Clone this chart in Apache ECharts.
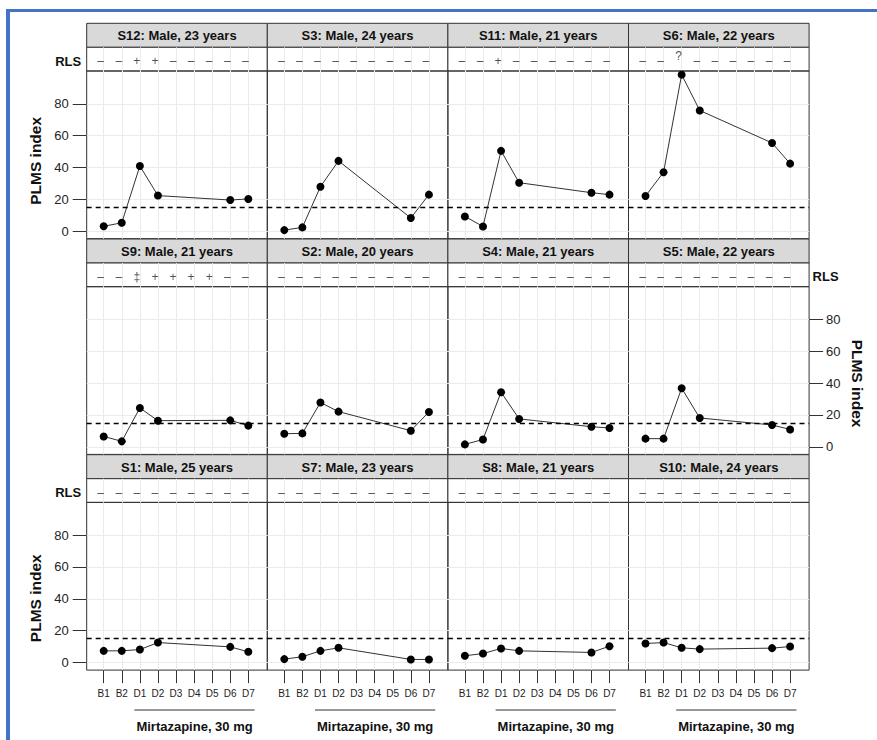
<!DOCTYPE html>
<html><head><meta charset="utf-8">
<script src="https://cdn.jsdelivr.net/npm/echarts@6/dist/echarts.min.js"></script>
<style>html,body{margin:0;padding:0;background:#fff}#c{width:877px;height:740px}</style>
</head><body><div id="c"></div>
<script>
// ---------- DATA ----------
const days = ['B1','B2','D1','D2','D3','D4','D5','D6','D7'];
const panelNames = [
  'S12: Male, 23 years','S3: Male, 24 years','S11: Male, 21 years','S6: Male, 22 years',
  'S9: Male, 21 years','S2: Male, 20 years','S4: Male, 21 years','S5: Male, 22 years',
  'S1: Male, 25 years','S7: Male, 23 years','S8: Male, 21 years','S10: Male, 24 years'
];
// PLMS index per day (null = not recorded)
const s12 = [3.0, 5.2, 40.9, 22.3, null, null, null, 19.5, 20.2];
const s3  = [0.6, 2.3, 27.9, 44.1, null, null, null, 8.2, 22.9];
const s11 = [9.2, 2.9, 50.4, 30.4, null, null, null, 24.1, 22.9];
const s6  = [22.0, 37.0, 98.3, 75.8, null, null, null, 55.4, 42.4];
const s9  = [6.5, 3.4, 24.4, 16.4, null, null, null, 16.6, 13.3];
const s2  = [8.2, 8.4, 27.8, 22.1, null, null, null, 10.1, 21.9];
const s4  = [1.5, 4.6, 34.3, 17.5, null, null, null, 12.6, 11.8];
const s5  = [5.1, 5.1, 36.8, 18.1, null, null, null, 13.7, 10.9];
const s1  = [7.3, 7.3, 8.1, 12.5, null, null, null, 9.8, 6.7];
const s7  = [2.1, 3.6, 7.3, 9.2, null, null, null, 1.9, 1.9];
const s8  = [4.2, 5.6, 8.8, 7.3, null, null, null, 6.3, 10.2];
const s10 = [11.9, 12.5, 9.2, 8.4, null, null, null, 9.0, 10.0];
// RLS status per day
const rls_s12 = ['–','–','+','+','–','–','–','–','–'];
const rls_s3  = ['–','–','–','–','–','–','–','–','–'];
const rls_s11 = ['–','–','+','–','–','–','–','–','–'];
const rls_s6  = ['–','–','?','–','–','–','–','–','–'];
const rls_s9  = ['–','–','‡','+','+','+','+','–','–'];
const rls_s2  = ['–','–','–','–','–','–','–','–','–'];
const rls_s4  = ['–','–','–','–','–','–','–','–','–'];
const rls_s5  = ['–','–','–','–','–','–','–','–','–'];
const rls_s1  = ['–','–','–','–','–','–','–','–','–'];
const rls_s7  = ['–','–','–','–','–','–','–','–','–'];
const rls_s8  = ['–','–','–','–','–','–','–','–','–'];
const rls_s10 = ['–','–','–','–','–','–','–','–','–'];
const yTicks = [0, 20, 40, 60, 80];
const threshold = 15;
const yTitle = 'PLMS index';
const rlsTitle = 'RLS';
const treatmentLabel = 'Mirtazapine, 30 mg';
const treatmentFrom = 'D1', treatmentTo = 'D7';

const panelValues = [s12, s3, s11, s6, s9, s2, s4, s5, s1, s7, s8, s10];
const panelRls = [rls_s12, rls_s3, rls_s11, rls_s6, rls_s9, rls_s2, rls_s4, rls_s5, rls_s1, rls_s7, rls_s8, rls_s10];

// ---------- LAYOUT ----------
const FONT = '"Liberation Sans", Arial, Helvetica, sans-serif';
const COL_LEFT = 86.7, COL_W = 180.6, ROW_TOP = 23.3, ROW_PITCH = 215.7;
const HEAD_H = 24, RLS_H = 23.7, PLOT_H = 167.7, TICK_LEN = 13, YTICK_LEN = 14;
const X_MIN = 0.06, X_MAX = 10.05, Y_MIN = -4.8, Y_MAX = 100.6;
const GRID_C = '#ebebeb', BORDER_C = '#333';
const NAME_SHIFT = [6, 13, 12]; // px downward shift of y-axis title per row
const xPos = days.map((d, i) => i + 1);

const grid = [], xAxis = [], yAxis = [], series = [], graphics = [];
const plotGridIdx = [], rlsGridIdx = [];

function hiddenAxes(g) {
  xAxis.push({gridIndex: g, type: 'value', show: false, min: 0, max: 1});
  yAxis.push({gridIndex: g, type: 'value', show: false, min: 0, max: 1});
}

panelNames.forEach((name, k) => {
  const r = Math.floor(k / 4), c = k % 4;
  const left = COL_LEFT + c * COL_W, top = ROW_TOP + r * ROW_PITCH;
  const leftSide = c === 0 && r !== 1, rightSide = c === 3 && r === 1;
  const plotTop = top + HEAD_H + RLS_H;

  // header strip
  const gH = grid.length;
  grid.push({left, top, width: COL_W, height: HEAD_H, show: true, backgroundColor: '#d9d9d9', borderColor: BORDER_C, borderWidth: 1});
  hiddenAxes(gH);
  graphics.push({type: 'text', x: left + COL_W / 2, y: top + HEAD_H / 2 + 0.5, z: 100,
    style: {text: name, align: 'center', verticalAlign: 'middle', font: 'bold 13px ' + FONT, fill: '#111'}});

  // RLS strip
  const gR = grid.length;
  rlsGridIdx.push(gR);
  grid.push({left, top: top + HEAD_H, width: COL_W, height: RLS_H, show: true, backgroundColor: '#fff', borderColor: BORDER_C, borderWidth: 1});
  xAxis.push({gridIndex: gR, type: 'value', min: X_MIN, max: X_MAX,
    axisLine: {show: false}, axisTick: {show: false, customValues: xPos}, axisLabel: {show: false},
    splitLine: {show: true, lineStyle: {color: GRID_C}}});
  yAxis.push({gridIndex: gR, type: 'value', min: 0, max: 1,
    axisLine: {show: false}, axisTick: {show: false}, axisLabel: {show: false}, splitLine: {show: false}});
  series.push({type: 'scatter', xAxisIndex: gR, yAxisIndex: gR, silent: true, animation: false,
    symbolSize: 0, itemStyle: {color: '#222'},
    data: panelRls[k].map((s, i) => ({value: [xPos[i], 0.5, s], label: {offset: s === '?' ? [-3, -3] : [-3, 2]}})),
    label: {show: true, position: 'inside', formatter: q => q.data.value[2], fontSize: 12, fontFamily: FONT,
      color: '#222', textBorderWidth: 0}});

  // plot
  const gP = grid.length;
  plotGridIdx.push(gP);
  grid.push({left, top: plotTop, width: COL_W, height: PLOT_H, show: true, backgroundColor: 'rgba(0,0,0,0)', borderColor: BORDER_C, borderWidth: 1});
  xAxis.push({gridIndex: gP, type: 'value', min: X_MIN, max: X_MAX,
    axisLine: {show: false, onZero: false}, axisTick: {show: false, customValues: xPos}, axisLabel: {show: false},
    splitLine: {show: true, lineStyle: {color: GRID_C}}});
  yAxis.push({gridIndex: gP, type: 'value', min: Y_MIN, max: Y_MAX,
    axisLine: {show: false, onZero: false}, axisTick: {show: false, customValues: yTicks}, axisLabel: {show: false},
    splitLine: {show: true, lineStyle: {color: GRID_C}}});
  const vals = panelValues[k];
  series.push({type: 'line', xAxisIndex: gP, yAxisIndex: gP, silent: true, animation: false,
    data: vals.map((v, i) => [xPos[i], v]).filter(d => d[1] !== null),
    symbol: 'circle', symbolSize: 8, showSymbol: true, itemStyle: {color: '#000'},
    lineStyle: {color: '#333', width: 1}, z: 3,
    markLine: {silent: true, symbol: 'none', label: {show: false}, animation: false,
      lineStyle: {type: [5, 4], color: '#000', width: 1.4}, data: [{yAxis: threshold}]}});

  // x tick strip under bottom row (ticks drawn as split lines of a thin grid)
  if (r === 2) {
    const gT = grid.length;
    grid.push({left, top: plotTop + PLOT_H, width: COL_W, height: TICK_LEN, show: false});
    xAxis.push({gridIndex: gT, type: 'value', min: X_MIN, max: X_MAX, position: 'bottom',
      axisLine: {show: false, onZero: false}, axisTick: {show: false, customValues: xPos},
      axisLabel: {show: true, customValues: xPos, formatter: v => days[Math.round(v) - 1], fontSize: 10, fontFamily: FONT, margin: 5, color: '#222'},
      splitLine: {show: true, lineStyle: {color: BORDER_C, width: 1}}});
    yAxis.push({gridIndex: gT, type: 'value', show: false, min: 0, max: 1});
  }
  // y tick strip beside outer panels
  if (leftSide || rightSide) {
    const gY = grid.length;
    const sh = NAME_SHIFT[r] * 2;
    grid.push({left: rightSide ? left + COL_W : left - YTICK_LEN, top: plotTop, width: YTICK_LEN, height: PLOT_H, show: false});
    xAxis.push({gridIndex: gY, type: 'value', show: false, min: 0, max: 1});
    yAxis.push({gridIndex: gY, type: 'value', min: Y_MIN, max: Y_MAX, position: rightSide ? 'right' : 'left',
      axisLine: {show: false, onZero: false}, axisTick: {show: false, customValues: yTicks},
      axisLabel: {show: true, customValues: yTicks, fontSize: 13, fontFamily: FONT, margin: rightSide ? 3 : 4, color: '#222'},
      splitLine: {show: true, lineStyle: {color: BORDER_C, width: 1}},
      name: yTitle, nameLocation: 'middle', nameGap: rightSide ? 26 : 29,
      nameRotate: rightSide ? -90 : 90, nameMoveOverlap: false,
      nameTextStyle: {fontSize: 15.5, fontWeight: 'bold', color: '#111', fontFamily: FONT,
        padding: rightSide ? [0, 0, 0, sh] : [0, sh, 0, 0]}});
  }
});

const chart = echarts.init(document.getElementById('c'), null, {renderer: 'svg'});
chart.setOption({animation: false, backgroundColor: '#fff', grid, xAxis, yAxis, series});

// RLS strip titles
panelNames.forEach((name, k) => {
  const r = Math.floor(k / 4), c = k % 4;
  const leftSide = c === 0 && r !== 1, rightSide = c === 3 && r === 1;
  if (!leftSide && !rightSide) return;
  const gR = rlsGridIdx[k];
  const p = chart.convertToPixel({gridIndex: gR}, [rightSide ? X_MAX : X_MIN, 0.5]);
  graphics.push({type: 'text', x: rightSide ? p[0] + 3.5 : p[0] - 5.5, y: p[1] + 2,
    style: {text: rlsTitle, align: rightSide ? 'left' : 'right', verticalAlign: 'middle', font: 'bold 13px ' + FONT, fill: '#111'}});
});

// treatment bracket under bottom row
const iFrom = xPos[days.indexOf(treatmentFrom)], iTo = xPos[days.indexOf(treatmentTo)];
panelNames.forEach((name, k) => {
  if (Math.floor(k / 4) !== 2) return;
  const gP = plotGridIdx[k];
  const a = chart.convertToPixel({gridIndex: gP}, [iFrom - 0.3, 0]);
  const b = chart.convertToPixel({gridIndex: gP}, [iTo + 0.35, 0]);
  graphics.push({type: 'line', shape: {x1: a[0], y1: 710, x2: b[0], y2: 710}, style: {stroke: '#333', lineWidth: 1}});
  graphics.push({type: 'text', x: (a[0] + b[0]) / 2, y: 726,
    style: {text: treatmentLabel, align: 'center', verticalAlign: 'middle', font: 'bold 13px ' + FONT, fill: '#111'}});
});
// frame lines (blue)
graphics.push({type: 'line', shape: {x1: 6, y1: 10.5, x2: 877, y2: 10.5}, style: {stroke: '#4472c4', lineWidth: 3}});
graphics.push({type: 'line', shape: {x1: 8, y1: 9, x2: 8, y2: 740}, style: {stroke: '#4472c4', lineWidth: 4}});
chart.setOption({graphic: graphics});
</script>
</body></html>
